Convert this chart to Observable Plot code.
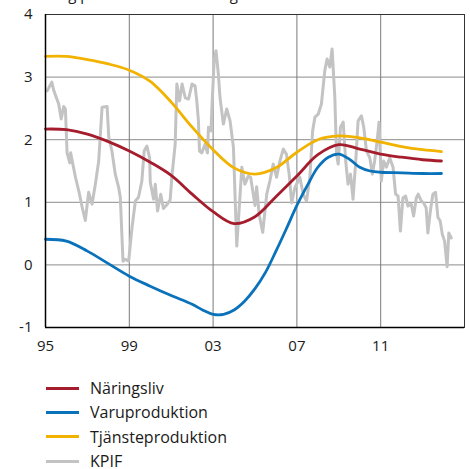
<!DOCTYPE html>
<html>
<head>
<meta charset="utf-8">
<script src="https://cdn.jsdelivr.net/npm/d3@7"></script>
<script src="https://cdn.jsdelivr.net/npm/@observablehq/plot@0.6"></script>
<style>
  body { margin: 0; background: #fff; font-family: "Open Sans", sans-serif; color: #1a1a1a; }
  #wrap { position: relative; width: 470px; height: 469px; overflow: hidden; }
  #title { position: absolute; left: 45px; top: -16px; font-size: 15px; white-space: nowrap; color: #1a1a1a; }
  #chart svg { display: block; }
  .legend { margin-left: 46px; margin-top: 16px; font-size: 16px; }
  .row { display: flex; align-items: center; height: 24.3px; }
  .sw { width: 33px; height: 3px; margin-right: 11px; }
</style>
</head>
<body>
<div id="wrap">
  <div id="title">Årlig procentuell förändring</div>
  <div id="chart"></div>
  <div class="legend" id="legend"></div>
</div>
<script>
// Trend series
const naringslivYears = [1995,1996,1997,1998,1999,2000,2001,2002,2003,2004,2005,2006,2007,2008,2009,2010,2011,2012,2013,2013.9];
const naringsliv = [2.17,2.16,2.09,1.97,1.82,1.64,1.43,1.13,0.85,0.66,0.77,1.09,1.42,1.76,1.92,1.85,1.77,1.72,1.68,1.66];
const varuYears = [1995,1996,1997,1998,1999,2000,2001,2002,2002.5,2003,2003.5,2004,2004.5,2005,2005.5,2006,2006.5,2007,2007.5,2008,2008.5,2009,2009.5,2010,2010.5,2011,2012,2013,2013.9];
const varuproduktion = [0.41,0.38,0.22,0.02,-0.18,-0.34,-0.49,-0.63,-0.72,-0.79,-0.79,-0.72,-0.58,-0.38,-0.12,0.22,0.58,0.95,1.27,1.56,1.72,1.77,1.69,1.56,1.50,1.48,1.47,1.46,1.46];
const tjansteYears = [1995,1996,1997,1998,1999,2000,2001,2002,2003,2004,2005,2006,2007,2008,2009,2010,2011,2012,2013,2013.9];
const tjansteproduktion = [3.33,3.33,3.28,3.21,3.11,2.93,2.60,2.20,1.84,1.55,1.45,1.55,1.80,2.00,2.06,2.03,1.96,1.89,1.84,1.81];

// KPIF (traced)
const kpifYears = [1995.08,1995.3,1995.4,1995.63,1995.75,1995.87,1995.95,1996.03,1996.16,1996.2,1996.43,1996.59,1996.75,1996.9,1997.06,1997.22,1997.38,1997.54,1997.7,1997.94,1998.02,1998.17,1998.33,1998.49,1998.57,1998.7,1998.8,1998.97,1999.13,1999.29,1999.44,1999.6,1999.71,1999.84,1999.97,2000.0,2000.16,2000.24,2000.35,2000.5,2000.63,2000.79,2000.95,2001.03,2001.19,2001.27,2001.4,2001.52,2001.67,2001.83,2001.99,2002.14,2002.22,2002.3,2002.35,2002.46,2002.62,2002.73,2002.78,2002.9,2002.94,2003.05,2003.14,2003.25,2003.33,2003.49,2003.65,2003.81,2003.97,2004.13,2004.29,2004.37,2004.52,2004.68,2004.79,2004.92,2005.0,2005.08,2005.2,2005.37,2005.56,2005.71,2005.87,2006.03,2006.19,2006.35,2006.5,2006.63,2006.75,2006.9,2007.14,2007.3,2007.46,2007.62,2007.75,2007.86,2008.02,2008.17,2008.33,2008.44,2008.57,2008.68,2008.81,2008.89,2008.97,2009.08,2009.21,2009.33,2009.44,2009.56,2009.68,2009.81,2009.92,2010.08,2010.19,2010.32,2010.48,2010.6,2010.71,2010.83,2010.92,2011.03,2011.14,2011.27,2011.43,2011.59,2011.71,2011.83,2011.94,2012.06,2012.19,2012.3,2012.46,2012.57,2012.7,2012.79,2012.94,2013.05,2013.17,2013.25,2013.37,2013.49,2013.62,2013.73,2013.84,2013.94,2014.05,2014.17,2014.25,2014.37];
const kpifValues = [2.78,2.92,2.78,2.57,2.33,2.53,2.49,1.79,1.63,1.79,1.40,1.18,0.92,0.71,1.16,0.97,1.29,1.66,2.52,2.53,2.04,1.82,1.45,1.24,1.08,0.06,0.09,0.06,0.60,1.02,1.08,1.34,1.82,1.90,1.71,1.32,1.05,1.29,0.86,1.13,0.90,0.96,1.04,1.40,1.93,2.89,2.62,2.89,2.67,2.65,2.89,2.86,2.62,2.30,1.82,1.79,1.93,1.79,2.20,2.14,2.49,3.26,3.42,3.05,2.67,2.25,2.49,2.30,1.88,0.30,1.13,1.56,1.29,1.42,1.40,1.13,0.95,1.25,0.80,0.52,1.13,1.34,1.61,1.40,1.66,1.85,1.77,1.45,0.99,1.23,1.40,1.13,1.02,1.40,2.14,2.36,2.41,2.57,3.10,3.29,3.16,3.45,2.68,1.77,1.61,2.20,2.28,1.66,1.29,1.45,1.05,1.66,2.30,2.38,2.20,1.82,1.71,1.45,1.66,1.98,2.28,1.34,1.66,1.56,1.71,1.56,1.13,1.10,0.54,1.07,1.10,0.94,0.97,0.78,1.07,1.13,1.02,0.99,0.91,0.51,0.86,1.13,1.16,0.76,0.70,0.49,0.38,-0.03,0.51,0.43];

const xTicks = [1995,1999,2003,2007,2011];
const xTickLabels = ["95","99","03","07","11"];
const yTicks = [-1,0,1,2,3,4];
const yTickLabels = ["-1","0","1","2","3","4"];

const seriesNames = ["Näringsliv","Varuproduktion","Tjänsteproduktion","KPIF"];
const seriesColors = ["#a51d2d","#0a72ba","#f2b200","#c3c3c3"];

const trendRows = [];
[[naringslivYears, naringsliv], [varuYears, varuproduktion], [tjansteYears, tjansteproduktion]].forEach(([ys, vs], i) => {
  vs.forEach((v, j) => trendRows.push({year: ys[j], value: v, series: seriesNames[i]}));
});
const kpifRows = kpifYears.map((y, i) => ({year: y, value: kpifValues[i]}));

const chart = Plot.plot({
  width: 470,
  height: 360,
  marginLeft: 45,
  marginRight: 6,
  marginTop: 14,
  marginBottom: 33,
  style: {fontFamily: "Open Sans, sans-serif", fontSize: "15px", color: "#1a1a1a", background: "transparent"},
  x: {domain: [1995, 2015], label: null},
  y: {domain: [-1, 4], label: null},
  color: {domain: seriesNames, range: seriesColors},
  marks: [
    Plot.gridY(yTicks, {stroke: "#8c8c8c", strokeOpacity: 1, strokeWidth: 1}),
    Plot.gridX(xTicks, {stroke: "#7a7a7a", strokeOpacity: 1, strokeWidth: 1}),
    Plot.line(kpifRows, {x: "year", y: "value", stroke: "#c3c3c3", strokeWidth: 3, curve: "linear"}),
    Plot.line(trendRows, {x: "year", y: "value", z: "series", stroke: "series", strokeWidth: 2.8, curve: "catmull-rom"}),
    Plot.frame({stroke: "#333", strokeWidth: 1}),
    Plot.ruleY([-1], {stroke: "#000", strokeWidth: 1.5}),
    Plot.ruleX([1995], {stroke: "#000", strokeWidth: 1.5}),
    Plot.axisX({ticks: xTicks, tickFormat: d => xTickLabels[xTicks.indexOf(d)], tickSize: 0, tickPadding: 13}),
    Plot.axisY({ticks: yTicks, tickFormat: d => yTickLabels[yTicks.indexOf(d)], tickSize: 0, tickPadding: 13})
  ]
});
document.getElementById("chart").appendChild(chart);

const legend = document.getElementById("legend");
seriesNames.forEach((name, i) => {
  const row = document.createElement("div");
  row.className = "row";
  const sw = document.createElement("div");
  sw.className = "sw";
  sw.style.background = seriesColors[i];
  const label = document.createElement("span");
  label.textContent = name;
  row.appendChild(sw);
  row.appendChild(label);
  legend.appendChild(row);
});
</script>
</body>
</html>
